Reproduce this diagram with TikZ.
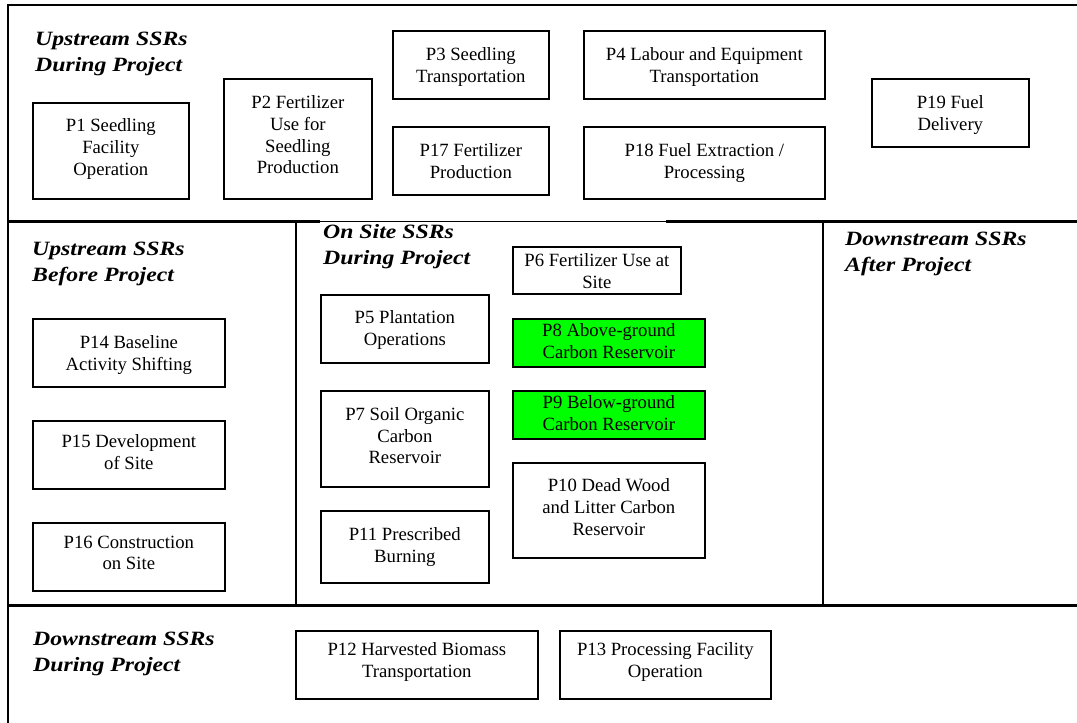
\documentclass[tikz,border=0pt]{standalone}
\usepackage{fontspec}
\setmainfont{Liberation Serif}
\newfontfamily\headfont[FakeStretch=1.17]{Liberation Serif}
\definecolor{boxgreen}{RGB}{0,255,0}
\newcommand\bt[4]{\parbox[c][#2pt][t]{#1pt}{\centering\fontsize{18.7}{21.7}\selectfont\vspace*{#3pt}#4\par}}
\newcommand\hd[2]{\vtop{\hbox{#1}\hbox{#2}}}
\tikzset{
  box/.style={draw, line width=1.7pt, inner sep=0pt, anchor=north west, fill=white},
  greenbox/.style={box, fill=boxgreen},
  heading/.style={anchor=base west, inner sep=0pt, font=\headfont\bfseries\itshape\fontsize{20.3}{26}\selectfont},
  frameline/.style={line width=2.2pt},
  thinline/.style={line width=1.3pt}
}
\begin{document}
\begin{tikzpicture}[x=1pt,y=-1pt]
\useasboundingbox (0,0) rectangle (1077,723);
% frame
\draw[frameline] (8,723) -- (8,5) -- (1077,5);
\draw[frameline] (8,221.5) -- (320,221.5);
\draw[thinline] (320,221.5) -- (666,221.5);
\draw[frameline] (666,221.5) -- (1077,221.5);
\draw[frameline] (8,605.5) -- (1077,605.5);
\draw[frameline] (296,221.5) -- (296,605.5);
\draw[frameline] (823,221.5) -- (823,605.5);
% headings
\node[heading] (h1) at (35,45) {\hd{Upstream SSRs}{During Project}};
\node[heading] (h2) at (32,255) {\hd{Upstream SSRs}{Before Project}};
\node[heading] (h3) at (323,238) {\hd{On Site SSRs}{During Project}};
\node[heading] (h4) at (845,245) {\hd{Downstream SSRs}{After Project}};
\node[heading] (h5) at (33,645) {\hd{Downstream SSRs}{During Project}};
% upstream during project
\node[box] (p1) at (32,102) {\bt{156}{96}{16}{P1 Seedling\\Facility\\Operation}};
\node[box] (p2) at (223,78) {\bt{148}{120}{17}{P2 Fertilizer\\Use for\\Seedling\\Production}};
\node[box] (p3) at (392,30) {\bt{156}{68}{16.5}{P3 Seedling\\Transportation}};
\node[box] (p17) at (392,126) {\bt{156}{68}{17}{P17 Fertilizer\\Production}};
\node[box] (p4) at (583,30) {\bt{241}{68}{16.5}{P4 Labour and Equipment\\Transportation}};
\node[box] (p18) at (583,126) {\bt{241}{72}{17}{P18 Fuel Extraction /\\Processing}};
\node[box] (p19) at (871,78) {\bt{157}{68}{17}{P19 Fuel\\Delivery}};
% upstream before project
\node[box] (p14) at (32,318) {\bt{192}{68}{17}{P14 Baseline\\Activity Shifting}};
\node[box] (p15) at (32,420) {\bt{192}{68}{14}{P15 Development\\of Site}};
\node[box] (p16) at (32,522) {\bt{192}{68}{13}{P16 Construction\\on Site}};
% on site
\node[box] (p5) at (320,294) {\bt{168}{68}{16}{P5 Plantation\\Operations}};
\node[box] (p6) at (512,246) {\bt{168}{47}{7}{P6 Fertilizer Use at\\Site}};
\node[greenbox] (p8) at (512,318) {\bt{192}{48}{5}{P8 Above-ground\\Carbon Reservoir}};
\node[greenbox] (p9) at (512,390) {\bt{192}{48}{5}{P9 Below-ground\\Carbon Reservoir}};
\node[box] (p7) at (320,390) {\bt{168}{96}{16.5}{P7 Soil Organic\\Carbon\\Reservoir}};
\node[box] (p10) at (512,462) {\bt{192}{95}{16}{P10 Dead Wood\\and Litter Carbon\\Reservoir}};
\node[box] (p11) at (320,510) {\bt{168}{72}{16.5}{P11 Prescribed\\Burning}};
% downstream during project
\node[box] (p12) at (295,630) {\bt{242}{68}{11.7}{P12 Harvested Biomass\\Transportation}};
\node[box] (p13) at (559,630) {\bt{211}{68}{11.7}{P13 Processing Facility\\Operation}};
\end{tikzpicture}
\end{document}
